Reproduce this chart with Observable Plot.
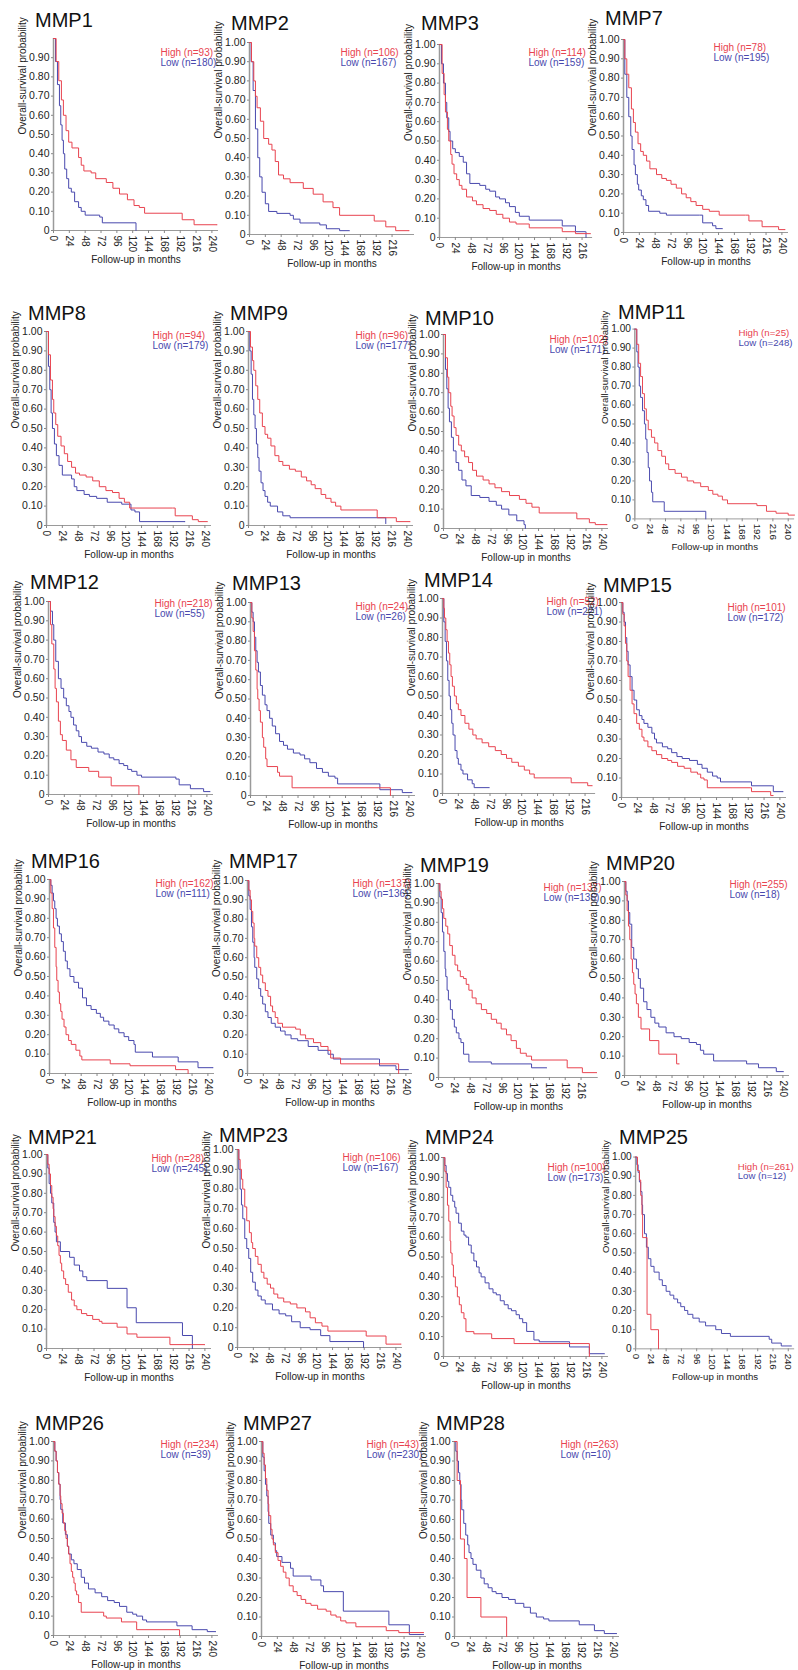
<!DOCTYPE html>
<html>
<head>
<meta charset="utf-8">
<script src="https://cdn.jsdelivr.net/npm/d3@7"></script>
<script src="https://cdn.jsdelivr.net/npm/@observablehq/plot@0.6"></script>
<style>
  html, body { margin: 0; padding: 0; background: #fff; }
  body { width: 798px; height: 1670px; overflow: hidden; position: relative; font-family: "Liberation Sans", Arial, sans-serif; }
  .panel { position: absolute; }
  .title { position: absolute; font-size: 20px; line-height: 22px; color: #111; white-space: nowrap; }
</style>
</head>
<body>
<div id="root"></div>
<script>
// ---------------- DATA ----------------
const genes = ["MMP1","MMP2","MMP3","MMP7","MMP8","MMP9","MMP10","MMP11","MMP12","MMP13","MMP14","MMP15",
               "MMP16","MMP17","MMP19","MMP20","MMP21","MMP23","MMP24","MMP25","MMP26","MMP27","MMP28"];
const nHigh = [93,106,114,78,94,96,102,25,218,24,52,101,162,137,137,255,28,106,100,261,234,43,263];
const nLow  = [180,167,159,195,179,177,171,248,55,26,221,172,111,136,136,18,245,167,173,12,39,230,10];

const yTickValues = [0,0.1,0.2,0.3,0.4,0.5,0.6,0.7,0.8,0.9,1.0];
const xTickValues = [0,24,48,72,96,120,144,168,192,216,240];

// survival curves: [month, survival] steps (step-after)
const highCurves = [
  /* MMP1 */ [[0,1],[4,0.88],[8,0.78],[12,0.68],[15,0.6],[19,0.52],[23,0.46],[28,0.43],[38,0.38],[42,0.34],[46,0.31],[57,0.3],[64,0.27],[80,0.25],[90,0.22],[100,0.19],[112,0.16],[122,0.13],[130,0.12],[138,0.09],[195,0.056],[213,0.03],[248,0.03]],
  /* MMP2 */ [[0,1],[3,0.9],[6.5,0.8],[9,0.72],[11.5,0.66],[16.5,0.59],[21.5,0.5],[29,0.47],[34,0.44],[39,0.38],[44,0.31],[51.5,0.29],[61.5,0.27],[81.5,0.24],[96.5,0.21],[111.5,0.17],[126.5,0.14],[136.5,0.1],[189,0.07],[206.5,0.04],[221.5,0.02],[242,0.02]],
  /* MMP3 */ [[0,1],[4,0.85],[7,0.74],[9,0.65],[12,0.56],[14,0.5],[17,0.43],[19,0.38],[22,0.33],[26,0.3],[30,0.27],[34,0.25],[41,0.21],[50,0.19],[56,0.17],[66,0.15],[76,0.14],[86,0.12],[96,0.1],[106,0.08],[116,0.07],[136,0.05],[186,0.03],[206,0.02],[229,0.02]],
  /* MMP7 */ [[0,1],[2,0.9],[5,0.82],[8,0.75],[12,0.64],[15,0.57],[18,0.52],[22,0.46],[26,0.42],[30,0.4],[35,0.37],[40,0.33],[50,0.3],[58,0.28],[65,0.27],[72,0.25],[80,0.23],[88,0.2],[95,0.18],[102,0.16],[110,0.14],[120,0.12],[130,0.11],[145,0.09],[185,0.09],[190,0.06],[210,0.03],[235,0.015],[245,0.015]],
  /* MMP8 */ [[0,1],[3,0.88],[6,0.75],[9,0.65],[11,0.58],[14,0.52],[17,0.46],[22,0.41],[27,0.37],[32,0.33],[38,0.3],[44,0.27],[50,0.26],[60,0.25],[70,0.23],[80,0.2],[90,0.18],[100,0.17],[110,0.14],[118,0.12],[126,0.09],[191,0.09],[195,0.05],[221,0.03],[230,0.02],[244,0.02]],
  /* MMP9 */ [[0,1],[3,0.92],[6,0.85],[8,0.8],[11,0.72],[14,0.65],[17,0.58],[21,0.51],[25,0.47],[29,0.45],[34,0.41],[40,0.36],[46,0.33],[52,0.31],[62,0.29],[71,0.28],[80,0.25],[88,0.23],[95,0.21],[101,0.19],[110,0.16],[117,0.14],[125,0.12],[132,0.1],[140,0.08],[193,0.08],[195,0.04],[224,0.02],[245,0.02]],
  /* MMP10 */ [[0,1],[3,0.88],[6,0.78],[8,0.7],[11,0.63],[13,0.58],[16,0.52],[19,0.48],[23,0.43],[27,0.4],[32,0.37],[38,0.34],[44,0.3],[50,0.27],[60,0.25],[69,0.23],[78,0.21],[88,0.19],[100,0.17],[115,0.15],[125,0.13],[134,0.11],[145,0.08],[198,0.08],[202,0.05],[221,0.03],[230,0.02],[248,0.02]],
  /* MMP11 */ [[0,1],[3,0.92],[6,0.82],[9,0.75],[12,0.66],[15,0.58],[18,0.52],[21,0.47],[26,0.43],[31,0.4],[36,0.36],[42,0.33],[48,0.29],[53,0.26],[63,0.24],[73,0.22],[82,0.2],[92,0.19],[103,0.17],[115,0.15],[122,0.13],[130,0.12],[137,0.1],[145,0.08],[191,0.07],[206,0.04],[221,0.03],[240,0.02],[250,0.02]],
  /* MMP12 */ [[0,1],[3,0.88],[5,0.78],[8,0.65],[10,0.55],[12,0.48],[15,0.38],[18,0.31],[21,0.28],[27,0.23],[34,0.18],[42,0.14],[61,0.12],[76,0.09],[95,0.045],[137,0.045],[137,0]],
  /* MMP13 */ [[0,1],[2,0.92],[4,0.85],[6,0.75],[8,0.65],[10,0.55],[11,0.5],[13,0.44],[15,0.38],[18,0.3],[20,0.25],[23,0.19],[25,0.15],[41,0.12],[44,0.1],[63,0.04],[212,0.04],[212,0]],
  /* MMP14 */ [[0,1],[2,0.95],[3,0.9],[5,0.84],[7,0.78],[9,0.72],[11,0.66],[13,0.6],[15,0.55],[18,0.5],[21,0.46],[24,0.43],[28,0.4],[34,0.36],[40,0.33],[46,0.3],[51,0.28],[60,0.26],[70,0.24],[80,0.22],[89,0.2],[97,0.18],[105,0.16],[115,0.14],[124,0.12],[132,0.1],[139,0.08],[193,0.08],[195,0.055],[220,0.04],[227,0.04]],
  /* MMP15 */ [[0,1],[2,0.94],[4,0.88],[6,0.79],[8,0.7],[10,0.62],[13,0.55],[16,0.48],[19,0.43],[23,0.38],[27,0.35],[31,0.31],[34,0.29],[40,0.26],[46,0.24],[53,0.22],[61,0.2],[70,0.19],[76,0.18],[85,0.16],[95,0.15],[105,0.13],[115,0.12],[120,0.1],[125,0.09],[130,0.05],[195,0.05],[197,0.03],[225,0.03],[226,0.01],[230,0.01]],
  /* MMP16 */ [[0,1],[2,0.93],[4,0.85],[6,0.75],[8,0.65],[10,0.55],[11,0.48],[13,0.42],[15,0.36],[17,0.32],[19,0.28],[22,0.24],[25,0.2],[29,0.17],[33,0.15],[40,0.12],[46,0.09],[49,0.07],[92,0.05],[122,0.04],[191,0.02],[210,0.02],[210,0]],
  /* MMP17 */ [[0,1],[2,0.95],[4,0.9],[6,0.84],[8,0.78],[10,0.7],[11,0.66],[14,0.6],[17,0.55],[20,0.51],[23,0.47],[27,0.43],[31,0.4],[35,0.35],[38,0.32],[42,0.29],[46,0.26],[53,0.24],[73,0.23],[80,0.2],[88,0.18],[100,0.16],[111,0.14],[122,0.12],[126,0.08],[141,0.05],[229,0.05],[229,0]],
  /* MMP19 */ [[0,1],[2,0.96],[4,0.92],[6,0.87],[8,0.82],[11,0.78],[14,0.74],[17,0.68],[21,0.63],[25,0.58],[29,0.55],[33,0.52],[38,0.51],[42,0.48],[46,0.45],[51,0.41],[57,0.38],[65,0.35],[73,0.33],[80,0.3],[88,0.28],[95,0.25],[103,0.22],[110,0.19],[118,0.15],[124,0.125],[133,0.11],[141,0.09],[195,0.05],[218,0.025],[240,0.025]],
  /* MMP20 */ [[0,1],[2,0.93],[4,0.85],[6,0.77],[8,0.7],[10,0.6],[12,0.53],[14,0.47],[16,0.42],[18,0.37],[21,0.3],[25,0.24],[38,0.18],[52,0.11],[79,0.06],[83,0.06]],
  /* MMP21 */ [[0,1],[2,0.95],[4,0.9],[6,0.84],[8,0.78],[10,0.72],[11,0.68],[13,0.63],[15,0.58],[17,0.53],[19,0.48],[21,0.44],[23,0.4],[26,0.36],[29,0.33],[33,0.29],[38,0.25],[42,0.22],[46,0.2],[53,0.18],[61,0.17],[70,0.15],[80,0.14],[84,0.13],[107,0.11],[122,0.075],[137,0.058],[187,0.02],[240,0.02]],
  /* MMP23 */ [[0,1],[2,0.95],[4,0.9],[6,0.85],[8,0.8],[11,0.71],[14,0.64],[18,0.58],[21,0.53],[23,0.5],[27,0.46],[31,0.42],[36,0.38],[40,0.35],[45,0.32],[50,0.3],[55,0.27],[61,0.25],[70,0.23],[80,0.22],[90,0.2],[103,0.18],[110,0.15],[118,0.125],[128,0.108],[137,0.083],[195,0.058],[225,0.017],[248,0.017]],
  /* MMP24 */ [[0,1],[2,0.93],[4,0.85],[6,0.76],[8,0.68],[10,0.58],[11,0.52],[13,0.46],[15,0.4],[18,0.35],[21,0.3],[24,0.26],[27,0.22],[31,0.19],[34,0.125],[46,0.114],[73,0.09],[107,0.065],[221,0.065],[221,0]],
  /* MMP25 */ [[0,1],[3,0.93],[6,0.88],[8,0.8],[10,0.7],[11,0.58],[18,0.18],[24,0.1],[36,0.1],[36,0]],
  /* MMP26 */ [[0,1],[2,0.95],[4,0.9],[6,0.84],[8,0.78],[10,0.72],[11,0.68],[13,0.63],[15,0.58],[17,0.54],[19,0.5],[21,0.46],[23,0.42],[25,0.37],[27,0.33],[29,0.3],[31,0.27],[33,0.23],[35,0.21],[38,0.17],[42,0.12],[76,0.1],[80,0.09],[103,0.07],[126,0.03],[191,0.03],[191,0]],
  /* MMP27 */ [[0,1],[2,0.94],[4,0.88],[6,0.81],[8,0.75],[10,0.68],[11,0.62],[14,0.55],[16,0.5],[18,0.47],[21,0.43],[25,0.39],[29,0.36],[33,0.33],[37,0.3],[42,0.26],[48,0.23],[54,0.21],[60,0.19],[67,0.17],[75,0.16],[85,0.14],[98,0.13],[105,0.11],[113,0.1],[120,0.08],[128,0.07],[143,0.05],[189,0.03],[208,0.02],[246,0.02]],
  /* MMP28 */ [[0,1],[4,0.8],[9,0.5],[15,0.4],[19,0.2],[40,0.1],[79,0.1],[79,0]]
];

const lowCurves = [
  /* MMP1 */ [[0,1],[3,0.88],[6,0.76],[9,0.65],[11,0.55],[13,0.47],[15,0.4],[17,0.32],[20,0.27],[23,0.22],[27,0.2],[32,0.15],[38,0.12],[42,0.1],[48,0.08],[70,0.07],[74,0.04],[125,0.04],[125,0]],
  /* MMP2 */ [[0,1],[2.5,0.9],[5.5,0.75],[9,0.55],[12.5,0.4],[15.5,0.3],[19,0.22],[24,0.16],[29,0.12],[41.5,0.11],[61.5,0.1],[66.5,0.08],[76.5,0.06],[106.5,0.05],[116.5,0.03],[136.5,0.02],[151.5,0.02]],
  /* MMP3 */ [[0,1],[3,0.9],[6,0.8],[9,0.7],[11,0.62],[14,0.55],[16,0.5],[20,0.46],[24,0.44],[30,0.42],[36,0.39],[41,0.33],[46,0.28],[61,0.27],[70,0.25],[76,0.24],[85,0.21],[91,0.2],[100,0.18],[106,0.16],[115,0.13],[121,0.11],[136,0.09],[186,0.06],[206,0.03],[221,0.03],[222,0]],
  /* MMP7 */ [[0,1],[2,0.82],[5,0.7],[8,0.6],[11,0.5],[13,0.43],[16,0.35],[18,0.3],[21,0.25],[23,0.22],[27,0.19],[30,0.17],[34,0.14],[38,0.11],[55,0.1],[65,0.09],[115,0.09],[120,0.05],[135,0.035],[140,0.02],[150,0.02]],
  /* MMP8 */ [[0,1],[3,0.82],[5,0.7],[7,0.58],[9,0.5],[12,0.42],[15,0.36],[19,0.31],[24,0.26],[38,0.24],[42,0.2],[46,0.18],[57,0.16],[65,0.15],[76,0.14],[92,0.12],[114,0.11],[128,0.08],[134,0.07],[141,0.02],[210,0.02]],
  /* MMP9 */ [[0,1],[2,0.9],[4,0.78],[6,0.65],[8,0.57],[10,0.5],[12,0.42],[14,0.35],[16,0.28],[19,0.22],[22,0.18],[25,0.15],[29,0.12],[33,0.1],[44,0.07],[52,0.05],[63,0.04],[208,0.04],[208,0.01]],
  /* MMP10 */ [[0,1],[3,0.82],[5,0.72],[7,0.62],[9,0.55],[12,0.47],[15,0.4],[19,0.34],[23,0.3],[28,0.25],[34,0.22],[42,0.17],[55,0.16],[69,0.14],[80,0.12],[88,0.1],[99,0.07],[111,0.04],[122,0.02],[124,0]],
  /* MMP11 */ [[0,1],[3,0.88],[5,0.8],[7,0.7],[9,0.64],[12,0.57],[15,0.5],[17,0.42],[19,0.35],[21,0.27],[23,0.2],[26,0.14],[28,0.09],[46,0.04],[111,0.04],[111,0]],
  /* MMP12 */ [[0,1],[3,0.95],[6,0.88],[8,0.8],[11,0.69],[15,0.6],[19,0.55],[23,0.5],[27,0.46],[31,0.43],[34,0.4],[38,0.36],[42,0.33],[46,0.3],[50,0.27],[58,0.25],[65,0.24],[75,0.22],[84,0.21],[92,0.19],[99,0.18],[107,0.16],[114,0.15],[120,0.13],[126,0.12],[134,0.1],[141,0.09],[193,0.08],[198,0.05],[215,0.03],[235,0.015],[245,0.015]],
  /* MMP13 */ [[0,1],[2,0.95],[4,0.9],[6,0.82],[8,0.75],[10,0.69],[12,0.64],[15,0.57],[18,0.52],[22,0.47],[25,0.44],[29,0.4],[33,0.36],[38,0.32],[44,0.28],[50,0.26],[56,0.24],[65,0.22],[75,0.21],[82,0.19],[90,0.17],[100,0.14],[109,0.12],[118,0.1],[128,0.09],[132,0.06],[193,0.06],[196,0.03],[230,0.015],[245,0.015]],
  /* MMP14 */ [[0,1],[2,0.88],[4,0.78],[6,0.68],[8,0.58],[10,0.5],[12,0.43],[14,0.36],[16,0.3],[19,0.22],[22,0.18],[24,0.15],[28,0.12],[31,0.1],[38,0.07],[45,0.05],[48,0.03],[71,0.03]],
  /* MMP15 */ [[0,1],[2,0.95],[4,0.9],[6,0.82],[8,0.75],[10,0.68],[13,0.62],[16,0.55],[19,0.5],[23,0.45],[27,0.42],[31,0.4],[34,0.38],[40,0.36],[46,0.33],[50,0.3],[53,0.28],[62,0.26],[70,0.25],[76,0.23],[84,0.21],[92,0.2],[103,0.19],[115,0.17],[122,0.15],[130,0.13],[138,0.11],[145,0.1],[150,0.08],[195,0.08],[197,0.06],[229,0.06],[230,0.03],[245,0.03]],
  /* MMP16 */ [[0,1],[2,0.97],[4,0.93],[6,0.89],[8,0.85],[10,0.8],[12,0.76],[15,0.72],[18,0.68],[21,0.63],[24,0.58],[27,0.54],[31,0.5],[37,0.47],[44,0.44],[50,0.39],[56,0.35],[63,0.33],[71,0.31],[77,0.29],[82,0.27],[90,0.25],[98,0.23],[105,0.21],[113,0.19],[120,0.17],[128,0.15],[130,0.11],[156,0.085],[195,0.06],[225,0.03],[248,0.03]],
  /* MMP17 */ [[0,1],[2,0.92],[4,0.85],[6,0.76],[8,0.68],[10,0.6],[11,0.55],[14,0.49],[17,0.44],[20,0.4],[23,0.36],[27,0.32],[31,0.29],[36,0.26],[42,0.24],[50,0.22],[57,0.2],[66,0.18],[76,0.17],[92,0.14],[107,0.12],[122,0.1],[130,0.075],[198,0.075],[200,0.04],[225,0.02],[244,0.02]],
  /* MMP19 */ [[0,1],[2,0.93],[4,0.85],[6,0.75],[8,0.65],[10,0.56],[11,0.52],[13,0.45],[15,0.4],[18,0.35],[21,0.3],[24,0.26],[27,0.23],[31,0.2],[34,0.18],[38,0.12],[46,0.08],[80,0.07],[141,0.05],[164,0.05]],
  /* MMP20 */ [[0,1],[2,0.95],[4,0.9],[6,0.84],[8,0.78],[11,0.66],[14,0.6],[18,0.55],[21,0.5],[24,0.45],[29,0.38],[34,0.34],[40,0.3],[46,0.27],[52,0.25],[63,0.22],[75,0.2],[86,0.19],[98,0.17],[109,0.16],[115,0.13],[120,0.11],[135,0.075],[185,0.06],[203,0.04],[230,0.02],[241,0.02]],
  /* MMP21 */ [[0,1],[2,0.93],[4,0.85],[6,0.8],[8,0.75],[11,0.65],[13,0.6],[15,0.55],[21,0.5],[35,0.47],[42,0.43],[50,0.4],[55,0.37],[61,0.35],[92,0.31],[122,0.21],[136,0.133],[206,0.067],[221,0.067],[221,0]],
  /* MMP23 */ [[0,1],[2,0.9],[4,0.8],[6,0.72],[8,0.65],[11,0.55],[14,0.5],[17,0.45],[20,0.38],[23,0.33],[27,0.29],[31,0.26],[36,0.24],[42,0.22],[53,0.19],[63,0.17],[73,0.16],[82,0.13],[95,0.1],[110,0.09],[126,0.06],[140,0.03],[191,0.03],[191,0]],
  /* MMP24 */ [[0,1],[2,0.96],[4,0.92],[6,0.88],[8,0.85],[11,0.81],[14,0.78],[17,0.75],[19,0.72],[23,0.67],[27,0.63],[31,0.61],[34,0.6],[38,0.56],[42,0.52],[46,0.48],[50,0.45],[54,0.42],[57,0.4],[63,0.37],[69,0.34],[75,0.32],[80,0.31],[86,0.28],[92,0.26],[98,0.24],[103,0.23],[110,0.21],[115,0.19],[120,0.17],[126,0.126],[137,0.083],[145,0.074],[191,0.048],[221,0.014],[244,0.014]],
  /* MMP25 */ [[0,1],[2,0.96],[4,0.92],[6,0.87],[8,0.82],[10,0.75],[11,0.7],[14,0.6],[17,0.53],[20,0.47],[24,0.43],[29,0.4],[37,0.36],[42,0.33],[48,0.3],[54,0.28],[60,0.26],[66,0.24],[71,0.22],[77,0.2],[82,0.18],[90,0.16],[100,0.14],[110,0.12],[126,0.1],[135,0.08],[149,0.065],[210,0.05],[214,0.03],[229,0.015],[245,0.015]],
  /* MMP26 */ [[0,1],[2,0.95],[4,0.9],[6,0.84],[8,0.78],[10,0.7],[11,0.65],[14,0.58],[18,0.52],[21,0.46],[23,0.42],[27,0.39],[31,0.37],[36,0.34],[42,0.3],[47,0.27],[53,0.24],[63,0.22],[73,0.2],[82,0.18],[92,0.17],[100,0.15],[111,0.12],[120,0.11],[126,0.1],[135,0.08],[141,0.07],[187,0.05],[210,0.03],[233,0.02],[246,0.02]],
  /* MMP27 */ [[0,1],[2,0.92],[4,0.85],[6,0.78],[8,0.72],[10,0.64],[11,0.58],[14,0.52],[18,0.48],[21,0.44],[23,0.41],[31,0.38],[44,0.35],[48,0.31],[75,0.29],[90,0.26],[94,0.23],[124,0.13],[193,0.06],[224,0.01],[246,0.01]],
  /* MMP28 */ [[0,1],[2,0.95],[4,0.9],[6,0.84],[8,0.78],[10,0.7],[11,0.65],[14,0.58],[17,0.52],[20,0.47],[22,0.43],[25,0.4],[28,0.37],[33,0.34],[40,0.3],[45,0.27],[51,0.25],[57,0.23],[63,0.22],[72,0.2],[82,0.19],[92,0.17],[105,0.15],[115,0.12],[124,0.1],[135,0.09],[143,0.08],[189,0.06],[212,0.03],[227,0.015],[246,0.015]]
];

// ---------------- LAYOUT (positions only) ----------------
// [axisX, yOf1, yOf0, legendDx, legendDy, titleDy, xEnd, lastTick, showTopLabel]
const layout = [
  [53, 38, 230, 107, 14, -18, 250, 240, false],
  [249, 42, 234, 91, 10, -19, 250, 216, true],
  [439, 44, 237, 89, 8, -21, 232, 216, true],
  [623, 39, 232, 90, 8, -21, 250, 240, true],
  [46, 331, 525, 106, 4, -18, 250, 240, true],
  [248, 331, 525, 107, 4, -18, 250, 240, true],
  [443, 334, 528, 106, 5, -16, 250, 240, true],
  [636, 329, 525, 107, 4, -17, 250, 240, true],
  [48, 601, 794, 106, 2, -19, 250, 240, true],
  [250, 602, 795, 105, 4, -19, 250, 240, true],
  [442, 598, 793, 104, 3, -18, 232, 216, true],
  [621, 602, 797, 106, 5, -17, 250, 240, true],
  [49, 879, 1073, 106, 4, -18, 250, 240, true],
  [247, 880, 1073, 105, 3, -19, 250, 240, true],
  [438, 883, 1077, 105, 4, -18, 242, 216, true],
  [624, 881, 1075, 105, 3, -18, 250, 240, true],
  [46, 1154, 1348, 105, 4, -17, 250, 240, true],
  [237, 1149, 1347, 105, 8, -14, 250, 240, true],
  [443, 1157, 1356, 104, 10, -20, 250, 240, true],
  [637, 1157, 1356, 106, 10, -20, 250, 240, true],
  [53, 1441, 1635, 107, 3, -18, 250, 240, true],
  [261, 1441, 1636, 105, 3, -18, 250, 240, true],
  [454, 1441, 1636, 106, 3, -18, 250, 240, true]
];

const RED = "#e8434f";
const BLUE = "#4848ad";
const PX_PER_MONTH = 0.66;
const FONT = "Liberation Sans, Arial, sans-serif";

const root = document.getElementById("root");

genes.forEach((gene, i) => {
  const [ax, y1, y0, ldx, ldy, tdy, xEnd, lastTick, showTop] = layout[i];
  const mL = 52, mR = 4, mT = 12, mB = 40;
  const innerW = xEnd * PX_PER_MONTH;
  const innerH = y0 - y1;
  const rows = [
    ...lowCurves[i].map(([t, s]) => ({t, s, g: "Low"})),
    ...highCurves[i].map(([t, s]) => ({t, s, g: "High"}))
  ];
  const xt = xTickValues.filter(d => d <= lastTick);
  const yt = yTickValues.filter(d => showTop || d < 0.95);

  const chart = Plot.plot({
    width: mL + innerW + mR,
    height: mT + innerH + mB,
    marginLeft: mL, marginRight: mR, marginTop: mT, marginBottom: mB,
    style: {overflow: "visible", fontFamily: FONT, background: "transparent", color: "#222"},
    x: {domain: [0, xEnd], axis: null},
    y: {domain: [0, 1], axis: null},
    color: {domain: ["High", "Low"], range: [RED, BLUE]},
    marks: [
      Plot.ruleY([0], {stroke: "#9a9a9a", strokeWidth: 1}),
      Plot.ruleX([0], {y1: 0, y2: 1, stroke: "#9a9a9a", strokeWidth: 1.5}),
      Plot.axisX(xt, {tickRotate: 90, tickSize: 3, tickPadding: 2, fontSize: 10, label: null, stroke: "#888", fill: "#222"}),
      Plot.axisY(yt, {tickSize: 2, tickPadding: 2, fontSize: 10.5, label: null, stroke: "#888", fill: "#222",
                      tickFormat: d => d === 0 ? "0" : d.toFixed(2)}),
      Plot.line(rows, {x: "t", y: "s", z: "g", stroke: "g", curve: "step-after", strokeWidth: 1}),
      Plot.text(["Follow-up in months"], {frameAnchor: "bottom", lineAnchor: "middle", dy: 29, fontSize: 10, fill: "#222"}),
      Plot.text(["Overall-survival probability"], {frameAnchor: "left", lineAnchor: "middle", rotate: -90, dx: -31, fontSize: 10, fill: "#222"}),
      Plot.text([`High (n=${nHigh[i]})`], {frameAnchor: "top-left", textAnchor: "start", lineAnchor: "middle", dx: ldx, dy: ldy, fontSize: 10, fill: RED}),
      Plot.text([`Low (n=${nLow[i]})`], {frameAnchor: "top-left", textAnchor: "start", lineAnchor: "middle", dx: ldx, dy: ldy + 10, fontSize: 10, fill: BLUE})
    ]
  });

  const wrap = document.createElement("div");
  wrap.className = "panel";
  wrap.style.left = (ax - mL) + "px";
  wrap.style.top = (y1 - mT) + "px";
  wrap.appendChild(chart);
  root.appendChild(wrap);

  const title = document.createElement("div");
  title.className = "title";
  title.textContent = gene;
  title.style.left = (ax - 18) + "px";
  title.style.top = (y1 + tdy - 11) + "px";
  root.appendChild(title);
});
</script>
</body>
</html>
